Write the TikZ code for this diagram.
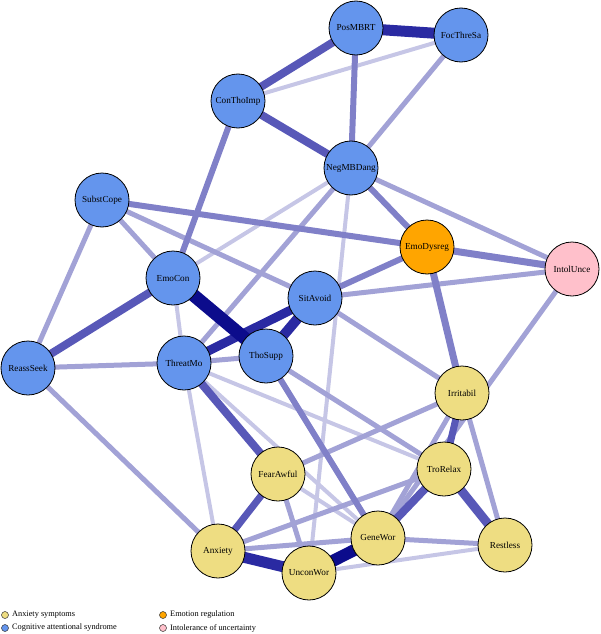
\documentclass[tikz,border=0pt]{standalone}
\usepackage{fontspec}
\setmainfont{Liberation Serif}
\pgfdeclarelayer{bg}
\pgfsetlayers{bg,main}
\definecolor{eA}{RGB}{12,12,140}
\definecolor{eB}{RGB}{42,42,162}
\definecolor{eC}{RGB}{88,88,184}
\definecolor{eD}{RGB}{128,128,200}
\definecolor{eE}{RGB}{162,162,214}
\definecolor{eF}{RGB}{198,198,230}
\definecolor{cab}{RGB}{100,149,237}
\definecolor{anx}{RGB}{238,221,130}
\definecolor{emo}{RGB}{255,165,0}
\definecolor{unc}{RGB}{255,192,203}
\tikzset{
  nd/.style={circle,draw=black,line width=0.8pt,minimum size=54pt,inner sep=0pt,font=\fontsize{9.2}{10}\selectfont},
  cabn/.style={nd,fill=cab},
  anxn/.style={nd,fill=anx},
  emon/.style={nd,fill=emo},
  uncn/.style={nd,fill=unc},
  ed/.style={line cap=butt},
  wA/.style={ed,draw=eA,line width=12pt},
  wB/.style={ed,draw=eB,line width=10pt},
  wC/.style={ed,draw=eC,line width=8pt},
  wD/.style={ed,draw=eD,line width=6pt},
  wE/.style={ed,draw=eE,line width=5pt},
  wF/.style={ed,draw=eF,line width=4pt},
  legdot/.style={circle,draw=black!80,line width=0.5pt,minimum size=7pt,inner sep=0pt},
  legtxt/.style={anchor=west,inner sep=0pt,font=\fontsize{8.3}{9}\selectfont}
}
\begin{document}
\begin{tikzpicture}[x=1pt,y=-1pt]
\useasboundingbox (0,0) rectangle (600,634);
% nodes
\node[cabn] (PosMBRT) at (356,28) {PosMBRT};
\node[cabn] (FocThreSa) at (461,35) {FocThreSa};
\node[cabn] (ConThoImp) at (238,101) {ConThoImp};
\node[cabn] (NegMBDang) at (351,168) {NegMBDang};
\node[cabn] (SubstCope) at (102,200) {SubstCope};
\node[cabn] (EmoCon) at (173,278) {EmoCon};
\node[cabn] (ReassSeek) at (28,368) {ReassSeek};
\node[cabn] (ThreatMo) at (184,363) {ThreatMo};
\node[cabn] (ThoSupp) at (266,356) {ThoSupp};
\node[cabn] (SitAvoid) at (315,298) {SitAvoid};
\node[emon] (EmoDysreg) at (427,247) {EmoDysreg};
\node[uncn] (IntolUnce) at (572,269) {IntolUnce};
\node[anxn] (Irritabil) at (462,393) {Irritabil};
\node[anxn] (TroRelax) at (444,469) {TroRelax};
\node[anxn] (FearAwful) at (278,474) {FearAwful};
\node[anxn] (Anxiety) at (218,551) {Anxiety};
\node[anxn] (UnconWor) at (309,573) {UnconWor};
\node[anxn] (GeneWor) at (378,538) {GeneWor};
\node[anxn] (Restless) at (505,545) {Restless};
% edges
\begin{pgfonlayer}{bg}
\foreach \a/\b in {ConThoImp/FocThreSa,NegMBDang/EmoCon,NegMBDang/UnconWor,EmoCon/ThreatMo,ThreatMo/Anxiety,ThreatMo/GeneWor,ThreatMo/TroRelax,UnconWor/Restless,FearAwful/GeneWor}
  \draw[wF] (\a.center) -- (\b.center);
\foreach \a/\b in {FocThreSa/NegMBDang,NegMBDang/IntolUnce,NegMBDang/ThreatMo,SubstCope/ReassSeek,SubstCope/EmoCon,SubstCope/SitAvoid,ThreatMo/ThoSupp,ThreatMo/ReassSeek,ThoSupp/TroRelax,SitAvoid/IntolUnce,SitAvoid/Irritabil,IntolUnce/GeneWor,Irritabil/GeneWor,Irritabil/Restless,Irritabil/FearAwful,TroRelax/Anxiety,Anxiety/GeneWor,GeneWor/Restless,FearAwful/UnconWor,ReassSeek/Anxiety}
  \draw[wE] (\a.center) -- (\b.center);
\foreach \a/\b in {PosMBRT/NegMBDang,ConThoImp/EmoCon,NegMBDang/EmoDysreg,SubstCope/EmoDysreg,ThoSupp/GeneWor,SitAvoid/EmoDysreg}
  \draw[wD] (\a.center) -- (\b.center);
\draw[wD,line width=7pt] (EmoDysreg.center) -- (IntolUnce.center);
\draw[wD,line width=7pt] (EmoDysreg.center) -- (Irritabil.center);
\draw[wC,line width=7pt] (FearAwful.center) -- (Anxiety.center);
\draw[wC,line width=7pt] (Irritabil.center) -- (TroRelax.center);
\foreach \a/\b in {PosMBRT/ConThoImp,ConThoImp/NegMBDang,EmoCon/ReassSeek,ThreatMo/FearAwful,TroRelax/GeneWor}
  \draw[wC] (\a.center) -- (\b.center);
\draw[wC,line width=9pt] (TroRelax.center) -- (Restless.center);
\draw[wB,line width=9pt] (ThreatMo.center) -- (SitAvoid.center);
\draw[wB] (ThoSupp.center) -- (SitAvoid.center);
\draw[wB,line width=11pt] (PosMBRT.center) -- (FocThreSa.center);
\draw[wB,line width=11pt] (Anxiety.center) -- (UnconWor.center);
\draw[wA] (GeneWor.center) -- (UnconWor.center);
\draw[wA,line width=13pt] (EmoCon.center) -- (ThoSupp.center);
\end{pgfonlayer}
% legend
\node[legdot,fill=anx] (lg1) at (5,615) {};
\node[legtxt] (lt1) at (12,615) {Anxiety symptoms};
\node[legdot,fill=cab] (lg2) at (5,628) {};
\node[legtxt] (lt2) at (12,628) {Cognitive attentional syndrome};
\node[legdot,fill=emo] (lg3) at (163,615) {};
\node[legtxt] (lt3) at (170,615) {Emotion regulation};
\node[legdot,fill=unc] (lg4) at (163,628) {};
\node[legtxt] (lt4) at (170,628) {Intolerance of uncertainty};
\end{tikzpicture}
\end{document}
